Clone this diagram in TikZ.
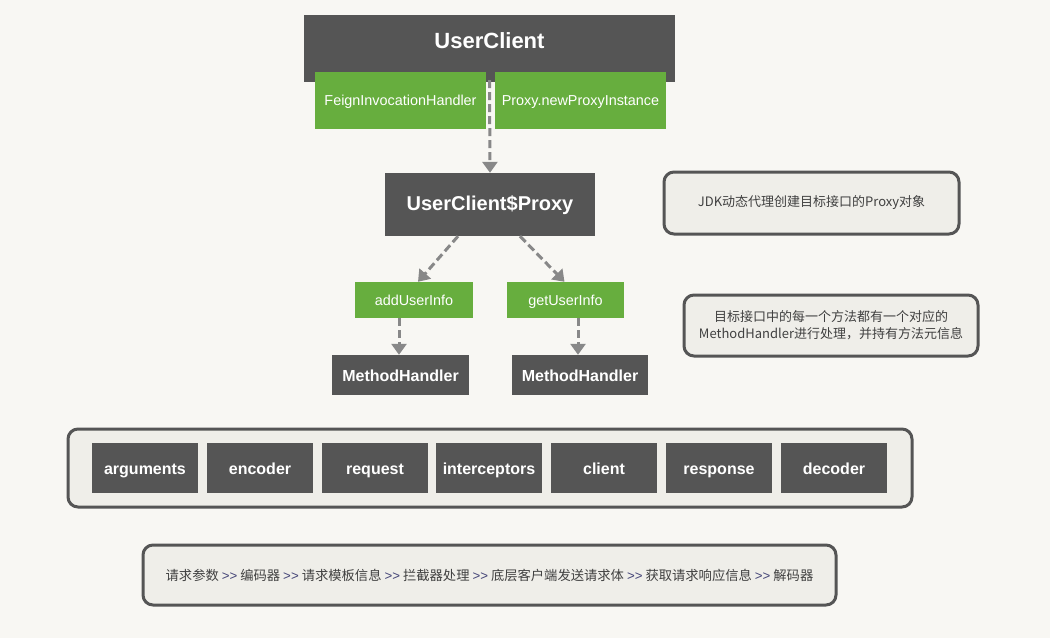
\documentclass[tikz,border=0pt]{standalone}
\usepackage{fontspec}
\setmainfont{Liberation Sans}
\newfontfamily\cjk{Noto Sans CJK SC}
\usetikzlibrary{arrows.meta}
\definecolor{bgcol}{HTML}{F8F7F3}
\definecolor{darkbox}{HTML}{555555}
\definecolor{greenbox}{HTML}{67AE3E}
\definecolor{notefill}{HTML}{EFEEE9}
\definecolor{arrowgray}{HTML}{888888}
\tikzstyle{dbox}=[fill=darkbox, text=white, font=\bfseries\fontsize{16}{18}\selectfont, inner sep=0pt, text height=1.2em, text depth=0pt]
\tikzstyle{gbox}=[fill=greenbox, text=white, font=\fontsize{14.4}{16}\selectfont, inner sep=0pt, text height=1.05em, text depth=0pt]
\tikzstyle{note}=[draw=darkbox, line width=3pt, fill=notefill, rounded corners=10pt, inner sep=0pt, font=\cjk\fontsize{13}{17}\selectfont, text=black!75, align=center]
\tikzstyle{flow}=[draw=arrowgray, line width=3pt, dash pattern=on 8pt off 4pt, -{Triangle[length=11pt,width=15pt]}]
\newcommand{\sep}{\textcolor{darkbox!80!blue}{\fontspec{Liberation Sans}>>}}

\begin{document}
\begin{tikzpicture}[x=1pt, y=-1pt]

\fill[bgcol] (0,0) rectangle (1050,638);
\useasboundingbox (0,0) rectangle (1050,638);

% top: interface and proxy
\node[dbox, minimum width=371pt, minimum height=67pt, font=\bfseries\fontsize{22}{24}\selectfont, text depth=12pt] (uc) at (489.5,48.5) {UserClient};
\node[gbox, minimum width=171pt, minimum height=57pt] (fih) at (400.5,100.5) {FeignInvocationHandler};
\node[gbox, minimum width=171pt, minimum height=57pt] (npi) at (580.5,100.5) {Proxy.newProxyInstance};
\node[dbox, minimum width=210pt, minimum height=63pt, font=\bfseries\fontsize{20}{22}\selectfont] (ucp) at (490,204.5) {UserClient\$Proxy};

\node[note, minimum width=295pt, minimum height=62pt] (note1) at (811.5,203) {JDK动态代理创建目标接口的Proxy对象};

% methods
\node[gbox, minimum width=118pt, minimum height=36pt] (add) at (414,300) {addUserInfo};
\node[gbox, minimum width=117pt, minimum height=36pt] (get) at (565.5,300) {getUserInfo};
\node[dbox, minimum width=137pt, minimum height=40pt] (mh1) at (400.5,375) {MethodHandler};
\node[dbox, minimum width=136pt, minimum height=40pt] (mh2) at (580,375) {MethodHandler};

\node[note, minimum width=294pt, minimum height=61pt] (note2) at (831,325.5) {目标接口中的每一个方法都有一个对应的\\MethodHandler进行处理，并持有方法元信息};

\draw[flow] ([yshift=2pt]uc.south) -- (ucp.north);
\draw[flow] ([xshift=-32pt]ucp.south) -- ([xshift=4pt]add.north);
\draw[flow] ([xshift=30pt]ucp.south) -- ([xshift=-1pt]get.north);
\draw[flow] ([xshift=-15pt]add.south) -- ([xshift=-1.5pt]mh1.north);
\draw[flow] ([xshift=12.5pt]get.south) -- ([xshift=-2pt]mh2.north);

% request pipeline
\node[note, minimum width=844pt, minimum height=78pt] (pipe) at (490,468) {};
\foreach \name/\x/\lbl in {arg/145/arguments, enc/260/encoder, req/375/request, itc/489/interceptors, cli/604/client, rsp/719/response, dec/834/decoder}
  \node[dbox, minimum width=106pt, minimum height=50pt] (\name) at (\x,468) {\lbl};

\node[note, minimum width=693pt, minimum height=60pt, font=\cjk\fontsize{13.3}{17}\selectfont] (steps) at (489.5,575) {请求参数 \sep{} 编码器 \sep{} 请求模板信息 \sep{} 拦截器处理 \sep{} 底层客户端发送请求体 \sep{} 获取请求响应信息 \sep{} 解码器};

\end{tikzpicture}
\end{document}
